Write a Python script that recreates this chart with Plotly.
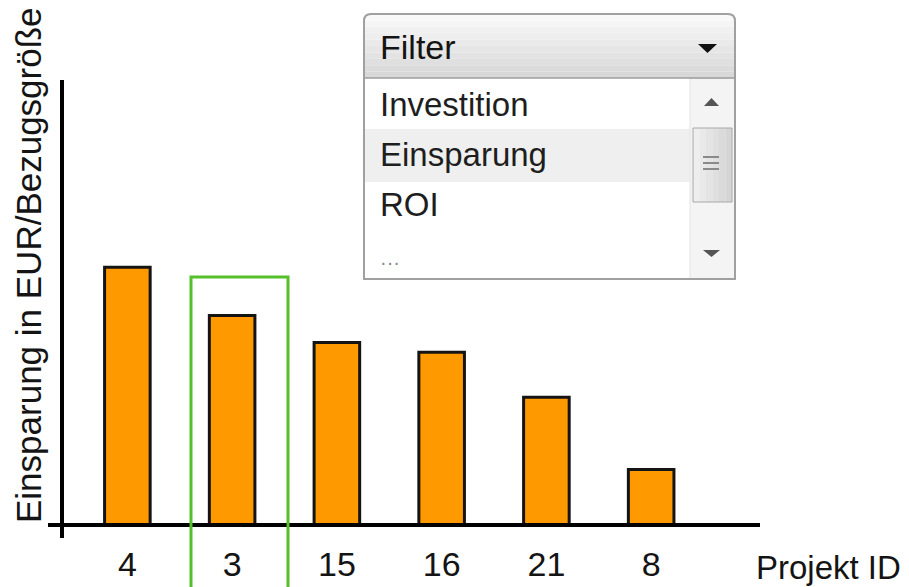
import plotly.graph_objects as go

# ---- data ----
projects = ["4", "3", "15", "16", "21", "8"]
savings = [5.79, 4.71, 4.10, 3.88, 2.87, 1.25]
highlighted_project = "3"
filter_label = "Filter"
filter_options = ["Investition", "Einsparung", "ROI", "..."]
selected_option = "Einsparung"
y_title = "Einsparung in EUR/Bezugsgröße"
x_title = "Projekt ID"

W, H = 909, 587
FONT = "Liberation Sans, Arial, sans-serif"


def px(x):
    return x / W


def py(y):
    return 1 - y / H


fig = go.Figure(
    go.Bar(
        x=projects,
        y=savings,
        width=0.435,
        marker=dict(color="#FF9900", line=dict(color="#141414", width=3)),
        hoverinfo="skip",
    )
)

shapes = []
annotations = []

# axis lines (with overhang like the reference)
shapes.append(dict(type="line", xref="paper", yref="paper", x0=px(48), x1=px(760),
                   y0=py(525), y1=py(525), line=dict(color="#000", width=4), layer="above"))
shapes.append(dict(type="line", xref="paper", yref="paper", x0=px(62), x1=px(62),
                   y0=py(538), y1=py(80), line=dict(color="#000", width=4), layer="above"))

# highlight rectangle around selected project
shapes.append(dict(type="rect", xref="paper", yref="paper", x0=px(191), x1=px(288),
                   y0=py(600), y1=py(277), line=dict(color="#55C02A", width=3),
                   fillcolor="rgba(0,0,0,0)", layer="above"))

# ---- dropdown widget ----
L, R, T, HB, B = 364, 735, 14, 78, 279
# header gradient
n = 10
for i in range(n):
    t = i / (n - 1)
    c = int(249 - (249 - 216) * t)
    y0 = T + (HB - T) * i / n
    y1 = T + (HB - T) * (i + 1) / n
    shapes.append(dict(type="rect", xref="paper", yref="paper", x0=px(L), x1=px(R),
                       y0=py(y1), y1=py(y0), line=dict(width=0),
                       fillcolor=f"rgb({c},{c},{c})", layer="above"))
# list area
shapes.append(dict(type="rect", xref="paper", yref="paper", x0=px(L), x1=px(R),
                   y0=py(B), y1=py(HB), line=dict(width=0), fillcolor="#FFFFFF", layer="above"))
# selected band
shapes.append(dict(type="rect", xref="paper", yref="paper", x0=px(L), x1=px(690),
                   y0=py(182), y1=py(129), line=dict(width=0), fillcolor="#EFEFEF", layer="above"))
# scrollbar track
shapes.append(dict(type="rect", xref="paper", yref="paper", x0=px(690), x1=px(R),
                   y0=py(B), y1=py(HB), line=dict(color="#E4E4E4", width=1),
                   fillcolor="#F4F4F4", layer="above"))
# scrollbar thumb (gradient)
for i in range(6):
    c = int(238 - 5 * i)
    x0 = 693 + 39 * i / 6
    x1 = 693 + 39 * (i + 1) / 6
    shapes.append(dict(type="rect", xref="paper", yref="paper", x0=px(x0), x1=px(x1),
                       y0=py(202), y1=py(128), line=dict(width=0),
                       fillcolor=f"rgb({c},{c},{c})", layer="above"))
shapes.append(dict(type="rect", xref="paper", yref="paper", x0=px(693), x1=px(732),
                   y0=py(202), y1=py(128), line=dict(color="#A8A8A8", width=1),
                   fillcolor="rgba(0,0,0,0)", layer="above"))
for gy in (157, 163, 169):
    shapes.append(dict(type="line", xref="paper", yref="paper", x0=px(703), x1=px(719),
                       y0=py(gy), y1=py(gy), line=dict(color="#8A8A8A", width=2), layer="above"))


def tri(x0, x1, xa, yb, ya):
    return (f"M {px(x0)},{py(yb)} L {px(x1)},{py(yb)} L {px(xa)},{py(ya)} Z")


# scroll arrows
shapes.append(dict(type="path", xref="paper", yref="paper", path=tri(704, 719, 711.5, 106, 98),
                   line=dict(width=0), fillcolor="#555555", layer="above"))
shapes.append(dict(type="path", xref="paper", yref="paper", path=tri(703, 720, 711.5, 250, 257),
                   line=dict(width=0), fillcolor="#555555", layer="above"))
# header dropdown arrow
shapes.append(dict(type="path", xref="paper", yref="paper", path=tri(698, 717, 707.5, 44, 53),
                   line=dict(width=0), fillcolor="#111111", layer="above"))
# header separator
shapes.append(dict(type="line", xref="paper", yref="paper", x0=px(L), x1=px(R),
                   y0=py(HB), y1=py(HB), line=dict(color="#9C9C9C", width=1.5), layer="above"))
# outer border with rounded top corners
r = 7
border = (f"M {px(L)},{py(B)} L {px(L)},{py(T + r)} Q {px(L)},{py(T)} {px(L + r)},{py(T)} "
          f"L {px(R - r)},{py(T)} Q {px(R)},{py(T)} {px(R)},{py(T + r)} L {px(R)},{py(B)} Z")
shapes.append(dict(type="path", xref="paper", yref="paper", path=border,
                   line=dict(color="#A0A0A0", width=2), fillcolor="rgba(0,0,0,0)", layer="above"))

annotations.append(dict(text=filter_label, xref="paper", yref="paper", x=px(378), y=py(47),
                        xanchor="left", yanchor="middle", showarrow=False,
                        font=dict(family=FONT, size=34, color="#141414")))
item_y = [104, 154, 204, 262]
for opt, yy in zip(filter_options, item_y):
    if opt == "...":
        annotations.append(dict(text="···", xref="paper", yref="paper", x=px(378), y=py(yy),
                                xanchor="left", yanchor="middle", showarrow=False,
                                font=dict(family=FONT, size=20, color="#888888")))
    else:
        annotations.append(dict(text=opt, xref="paper", yref="paper", x=px(378), y=py(yy),
                                xanchor="left", yanchor="middle", showarrow=False,
                                font=dict(family=FONT, size=33, color="#1E1E1E")))

# axis titles
annotations.append(dict(text=y_title, xref="paper", yref="paper", x=px(28), y=py(265),
                        textangle=-90, xanchor="center", yanchor="middle", showarrow=False,
                        font=dict(family=FONT, size=35, color="#141414")))
annotations.append(dict(text=x_title, xref="paper", yref="paper", x=px(754), y=py(567),
                        xanchor="left", yanchor="middle", showarrow=False,
                        font=dict(family=FONT, size=33, color="#141414")))

fig.update_layout(
    template="none",
    width=W,
    height=H,
    margin=dict(l=0, r=0, t=0, b=0),
    paper_bgcolor="#FFFFFF",
    plot_bgcolor="#FFFFFF",
    showlegend=False,
    font=dict(family=FONT, color="#141414"),
    xaxis=dict(
        type="category",
        domain=[px(62), px(760)],
        range=[-0.624, 6.039],
        showgrid=False,
        zeroline=False,
        showline=False,
        ticks="",
        tickfont=dict(family=FONT, size=34, color="#141414"),
        ticklabelstandoff=16,
        automargin=False,
        fixedrange=True,
    ),
    yaxis=dict(
        domain=[py(525), py(80)],
        range=[0, 10],
        showgrid=False,
        zeroline=False,
        showline=False,
        showticklabels=False,
        ticks="",
        automargin=False,
        fixedrange=True,
    ),
    shapes=shapes,
    annotations=annotations,
)

fig.write_html(
    "out.html",
    config={"displayModeBar": False},
    post_script="document.body.style.margin='0';document.body.style.overflow='hidden';",
)
